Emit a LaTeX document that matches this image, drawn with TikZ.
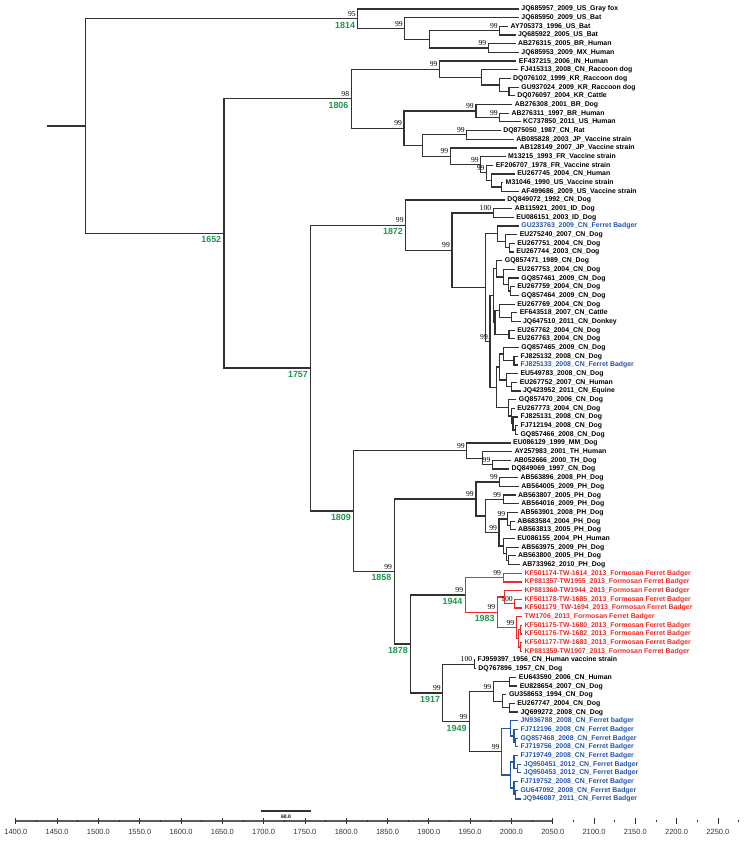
\documentclass[tikz,border=0pt]{standalone}
\usepackage{fontspec}
\setmainfont{Liberation Serif}
\newfontfamily\arialfont{Liberation Sans}
\usetikzlibrary{calc}
\definecolor{treegrey}{RGB}{50,50,50}
\definecolor{fbred}{RGB}{232,45,38}
\definecolor{fbblue}{RGB}{35,85,170}
\definecolor{yeargreen}{RGB}{30,150,75}

\tikzset{
  treeline/.style={draw=treegrey, line width=1.05pt},
  redline/.style={treeline, draw=fbred},
  blueline/.style={treeline, draw=fbblue},
  leaf/.style={anchor=west, inner xsep=2pt, inner ysep=0pt, text height=4.2pt, text depth=0.9pt,
    font=\arialfont\bfseries\fontsize{5.9pt}{6pt}\selectfont},
  boot/.style={anchor=south east, inner sep=0pt, xshift=-1.6pt, yshift=1.8pt,
    font=\fontsize{6.5pt}{7pt}\selectfont},
  yearlab/.style={anchor=north east, inner sep=0pt, xshift=-2.2pt, yshift=-2.6pt, text=yeargreen,
    font=\arialfont\bfseries\fontsize{7.6pt}{8pt}\selectfont},
  axislab/.style={font=\arialfont\fontsize{6.4pt}{7pt}\selectfont, text=treegrey}
}

% clade: name, year of node, upper child, lower child
\newcommand{\clade}[5][treeline]{%
  \path let \p1=(#4), \p2=(#5), \p3=(#3,0) in (\x3,{0.5*\y1+0.5*\y2}) coordinate (#2);
  \draw[#1] (#4) -| (#2) |- (#5);}
\newcommand{\bsv}[2]{\node[boot] (b#1) at (#1) {#2};}
\newcommand{\yearlab}[1]{\node[yearlab] (y#1) at (n#1) {#1};}

\begin{document}
\begin{tikzpicture}[x=0.02478cm, y=-0.2604cm]
\useasboundingbox (1380.87,-0.037) rectangle (2281.6,96.85);

% Taxa: sampling year, colour, label
\foreach [count=\i] \yr/\col/\txt in {
  2009/black/JQ685957\_2009\_US\_Gray fox,
  2009/black/JQ685950\_2009\_US\_Bat,
  1996/black/AY705373\_1996\_US\_Bat,
  2005/black/JQ685922\_2005\_US\_Bat,
  2005/black/AB276315\_2005\_BR\_Human,
  2009/black/JQ685953\_2009\_MX\_Human,
  2006/black/EF437215\_2006\_IN\_Human,
  2008/black/FJ415313\_2008\_CN\_Raccoon dog,
  1999/black/DQ076102\_1999\_KR\_Raccoon dog,
  2009/black/GU937024\_2009\_KR\_Raccoon dog,
  2004/black/DQ076097\_2004\_KR\_Cattle,
  2001/black/AB276308\_2001\_BR\_Dog,
  1997/black/AB276311\_1997\_BR\_Human,
  2011/black/KC737850\_2011\_US\_Human,
  1987/black/DQ875050\_1987\_CN\_Rat,
  2003/black/AB085828\_2003\_JP\_Vaccine strain,
  2007/black/AB128149\_2007\_JP\_Vaccine strain,
  1993/black/M13215\_1993\_FR\_Vaccine strain,
  1978/black/EF206707\_1978\_FR\_Vaccine strain,
  2004/black/EU267745\_2004\_CN\_Human,
  1990/black/M31046\_1990\_US\_Vaccine strain,
  2009/black/AF499686\_2009\_US\_Vaccine strain,
  1992/black/DQ849072\_1992\_CN\_Dog,
  2001/black/AB115921\_2001\_ID\_Dog,
  2003/black/EU086151\_2003\_ID\_Dog,
  2009/fbblue/GU233763\_2009\_CN\_Ferret Badger,
  2007/black/EU275240\_2007\_CN\_Dog,
  2004/black/EU267751\_2004\_CN\_Dog,
  2003/black/EU267744\_2003\_CN\_Dog,
  1989/black/GQ857471\_1989\_CN\_Dog,
  2004/black/EU267753\_2004\_CN\_Dog,
  2009/black/GQ857461\_2009\_CN\_Dog,
  2004/black/EU267759\_2004\_CN\_Dog,
  2009/black/GQ857464\_2009\_CN\_Dog,
  2004/black/EU267769\_2004\_CN\_Dog,
  2007/black/EF643518\_2007\_CN\_Cattle,
  2011/black/JQ647510\_2011\_CN\_Donkey,
  2004/black/EU267762\_2004\_CN\_Dog,
  2004/black/EU267763\_2004\_CN\_Dog,
  2009/black/GQ857465\_2009\_CN\_Dog,
  2008/black/FJ825132\_2008\_CN\_Dog,
  2008/fbblue/FJ825133\_2008\_CN\_Ferret Badger,
  2008/black/EU549783\_2008\_CN\_Dog,
  2007/black/EU267752\_2007\_CN\_Human,
  2011/black/JQ423952\_2011\_CN\_Equine,
  2006/black/GQ857470\_2006\_CN\_Dog,
  2004/black/EU267773\_2004\_CN\_Dog,
  2008/black/FJ825131\_2008\_CN\_Dog,
  2008/black/FJ712194\_2008\_CN\_Dog,
  2008/black/GQ857466\_2008\_CN\_Dog,
  1999/black/EU086129\_1999\_MM\_Dog,
  2001/black/AY257983\_2001\_TH\_Human,
  2000/black/AB052666\_2000\_TH\_Dog,
  1997/black/DQ849069\_1997\_CN\_Dog,
  2008/black/AB563896\_2008\_PH\_Dog,
  2009/black/AB564005\_2009\_PH\_Dog,
  2005/black/AB563807\_2005\_PH\_Dog,
  2009/black/AB564016\_2009\_PH\_Dog,
  2008/black/AB563901\_2008\_PH\_Dog,
  2004/black/AB683584\_2004\_PH\_Dog,
  2005/black/AB563813\_2005\_PH\_Dog,
  2004/black/EU086155\_2004\_PH\_Human,
  2009/black/AB563975\_2009\_PH\_Dog,
  2005/black/AB563800\_2005\_PH\_Dog,
  2010/black/AB733962\_2010\_PH\_Dog,
  2013/fbred/KF501174-TW-1614\_2013\_Formosan Ferret Badger,
  2013/fbred/KP881357-TW1955\_2013\_Formosan Ferret Badger,
  2013/fbred/KP881360-TW1944\_2013\_Formosan Ferret Badger,
  2013/fbred/KF501178-TW-1685\_2013\_Formosan Ferret Badger,
  2013/fbred/KF501179\_TW-1694\_2013\_Formosan Ferret Badger,
  2013/fbred/TW1706\_2013\_Formosan Ferret Badger,
  2013/fbred/KF501175-TW-1680\_2013\_Formosan Ferret Badger,
  2013/fbred/KF501176-TW-1682\_2013\_Formosan Ferret Badger,
  2013/fbred/KF501177-TW-1683\_2013\_Formosan Ferret Badger,
  2013/fbred/KP881359-TW1907\_2013\_Formosan Ferret Badger,
  1956/black/FJ959397\_1956\_CN\_Human vaccine strain,
  1957/black/DQ767896\_1957\_CN\_Dog,
  2006/black/EU643590\_2006\_CN\_Human,
  2007/black/EU828654\_2007\_CN\_Dog,
  1994/black/GU358653\_1994\_CN\_Dog,
  2004/black/EU267747\_2004\_CN\_Dog,
  2008/black/JQ699272\_2008\_CN\_Dog,
  2008/fbblue/JN936788\_2008\_CN\_Ferret badger,
  2008/fbblue/FJ712196\_2008\_CN\_Ferret Badger,
  2008/fbblue/GQ857468\_2008\_CN\_Ferret Badger,
  2008/fbblue/FJ719756\_2008\_CN\_Ferret Badger,
  2008/fbblue/FJ719749\_2008\_CN\_Ferret Badger,
  2012/fbblue/JQ950451\_2012\_CN\_Ferret Badger,
  2012/fbblue/JQ950453\_2012\_CN\_Ferret Badger,
  2008/fbblue/FJ719752\_2008\_CN\_Ferret Badger,
  2008/fbblue/GU647092\_2008\_CN\_Ferret Badger,
  2011/fbblue/JQ946087\_2011\_CN\_Ferret Badger}
  \node[leaf, text=\col] (t\i) at (\yr,\i) {\txt};

% Americas clade
\clade{c1}{1986}{t3}{t4}
\clade{d1}{1972}{t5}{t6}
\clade{b1}{1901}{c1}{d1}
\clade{a1}{1871}{t2}{b1}
\clade{n1814}{1814}{t1}{a1}

% Asian / vaccine clade
\clade{h2}{1997}{t10}{t11}
\clade{g2}{1986}{t9}{h2}
\clade{f2}{1964}{t8}{g2}
\clade{e2}{1913}{t7}{f2}
\clade{k2}{1986}{t13}{t14}
\clade{j2}{1957}{t12}{k2}
\clade{n2}{1946}{t15}{t16}
\clade{v2}{1988}{t21}{t22}
\clade{w2}{1976}{t20}{v2}
\clade{q2}{1970}{t19}{w2}
\clade{p2}{1963}{t18}{q2}
\clade{o2}{1926}{t17}{p2}
\clade{m2}{1892}{n2}{o2}
\clade{i2}{1870}{j2}{m2}
\clade{n1806}{1806}{e2}{i2}

% China dog clade
\clade{a3}{1978}{t24}{t25}
\clade{c3b}{1998}{t28}{t29}
\clade{c3a}{1993}{t27}{c3b}
\clade{c3}{1983}{t26}{c3a}
\clade{s3}{1999}{t33}{t34}
\clade{r3}{1996}{t32}{s3}
\clade{q3}{1990}{t31}{r3}
\clade{p3}{1982}{t30}{q3}
\clade{u3b}{2000}{t36}{t37}
\clade{u3}{1986}{t35}{u3b}
\clade{e3}{1997}{t38}{t39}
\clade{f3}{1980}{u3}{e3}
\clade{g3}{1978}{p3}{f3}
\clade{v3b}{2003}{t41}{t42}
\clade{v3}{1990}{t40}{v3b}
\clade{w3b}{2000}{t44}{t45}
\clade{w3}{1994}{t43}{w3b}
\clade{h3}{1986}{v3}{w3}
\clade{z3c}{2005}{t49}{t50}
\clade{z3b}{2002}{t48}{z3c}
\clade{z3a}{2000}{t47}{z3b}
\clade{x3}{1996}{t46}{z3a}
\clade{k3}{1982}{h3}{x3}
\clade{d3}{1974}{g3}{k3}
\clade{b3}{1969}{c3}{d3}
\clade{z3}{1928}{a3}{b3}
\clade{n1872}{1872}{t23}{z3}

% Southeast Asia
\clade{g4}{1977}{t53}{t54}
\clade{f4}{1965}{t52}{g4}
\clade{e4}{1946}{t51}{f4}
\clade{i4}{1986}{t55}{t56}
\clade{k4}{1990}{t57}{t58}
\clade{n4}{1999}{t60}{t61}
\clade{m4}{1995}{t59}{n4}
\clade{r4}{1996}{t64}{t65}
\clade{q4}{1994}{t63}{r4}
\clade{p4}{1990}{t62}{q4}
\clade{o4}{1985}{m4}{p4}
\clade{j4}{1969}{k4}{o4}
\clade{h4}{1957}{i4}{j4}

% Taiwan ferret badgers
\clade[redline]{fa}{1990}{t66}{t67}
\clade[redline]{fc}{2004}{t69}{t70}
\clade[redline]{fb}{1992}{t68}{fc}
\clade[redline]{fg}{2011}{t72}{t73}
\clade[redline]{fh}{2011}{t74}{t75}
\clade[redline]{ff}{2009}{fg}{fh}
\clade[redline]{fe}{2006}{t71}{ff}
\clade[redline]{n1983}{1983}{fb}{fe}
\clade[redline]{n1944}{1944}{fa}{n1983}

% China, ferret badgers
\clade{a5}{1955}{t76}{t77}
\clade{d5}{1998}{t78}{t79}
\clade{f5}{1998}{t81}{t82}
\clade{e5}{1989}{t80}{f5}
\clade{b5}{1978}{d5}{e5}
\clade[blueline]{j5}{2005}{t85}{t86}
\clade[blueline]{i5}{2003}{t84}{j5}
\clade[blueline]{g5}{1999}{t83}{i5}
\clade[blueline]{l5b}{2007}{t88}{t89}
\clade[blueline]{l5}{2003}{t87}{l5b}
\clade[blueline]{m5b}{2005}{t91}{t92}
\clade[blueline]{m5}{2003}{t90}{m5b}
\clade[blueline]{h5}{1999}{l5}{m5}
\clade[blueline]{c5}{1988}{g5}{h5}
\clade{n1949}{1949}{b5}{c5}
\clade{n1917}{1917}{a5}{n1949}
\clade{n1878}{1878}{n1944}{n1917}
\clade{n1858}{1858}{h4}{n1878}
\clade{n1809}{1809}{e4}{n1858}

% backbone
\clade{n1757}{1757}{n1872}{n1809}
\clade{n1652}{1652}{n1806}{n1757}
\clade{root}{1484}{n1814}{n1652}
\coordinate (stub) at ([xshift=-1.14cm]root);
\draw[treeline] (stub) -- (root);

% bootstrap values
\bsv{n1814}{95} \bsv{a1}{99} \bsv{c1}{99} \bsv{d1}{99}
\bsv{n1806}{98} \bsv{e2}{99} \bsv{i2}{99} \bsv{j2}{99} \bsv{k2}{99}
\bsv{n2}{99} \bsv{o2}{99} \bsv{p2}{99} \bsv{q2}{99}
\bsv{n1872}{99} \bsv{a3}{100} \bsv{z3}{99} \bsv{d3}{99}
\bsv{e4}{99} \bsv{g4}{99} \bsv{h4}{99} \bsv{i4}{99} \bsv{k4}{99} \bsv{m4}{99} \bsv{o4}{99}
\bsv{n1858}{99} \bsv{n1944}{99} \bsv{fa}{99} \bsv{fc}{100} \bsv{n1983}{99} \bsv{fe}{99}
\bsv{a5}{100} \bsv{n1917}{99} \bsv{b5}{99} \bsv{n1949}{99} \bsv{c5}{99}

% node ages
\yearlab{1814} \yearlab{1806} \yearlab{1652} \yearlab{1872} \yearlab{1757} \yearlab{1809}
\yearlab{1858} \yearlab{1944} \yearlab{1983} \yearlab{1878} \yearlab{1917} \yearlab{1949}

% scale bar
\draw[treegrey, line width=1pt] (1697,93.4) coordinate (sb0) -- (1757,93.4) coordinate (sb1);
\node[font=\arialfont\bfseries\fontsize{4.3pt}{5pt}\selectfont] (sblab) at (1727,94.0) {60.0};

% time axis
\draw[treegrey!80, line width=1.3pt] (1400,94.55) coordinate (ax0) -- (2050,94.55) coordinate (ax1);
\foreach \t in {1400,1450,...,2250} {
  \draw[treegrey, line width=0.6pt] (\t,94.25) -- (\t,94.85);
  \node[axislab] (ax\t) at (\t,95.85) {\t.0};
}
\foreach \t in {1425,1475,...,2275}
  \draw[treegrey, line width=0.6pt] (\t,94.4) -- (\t,94.7);
\end{tikzpicture}
\end{document}
